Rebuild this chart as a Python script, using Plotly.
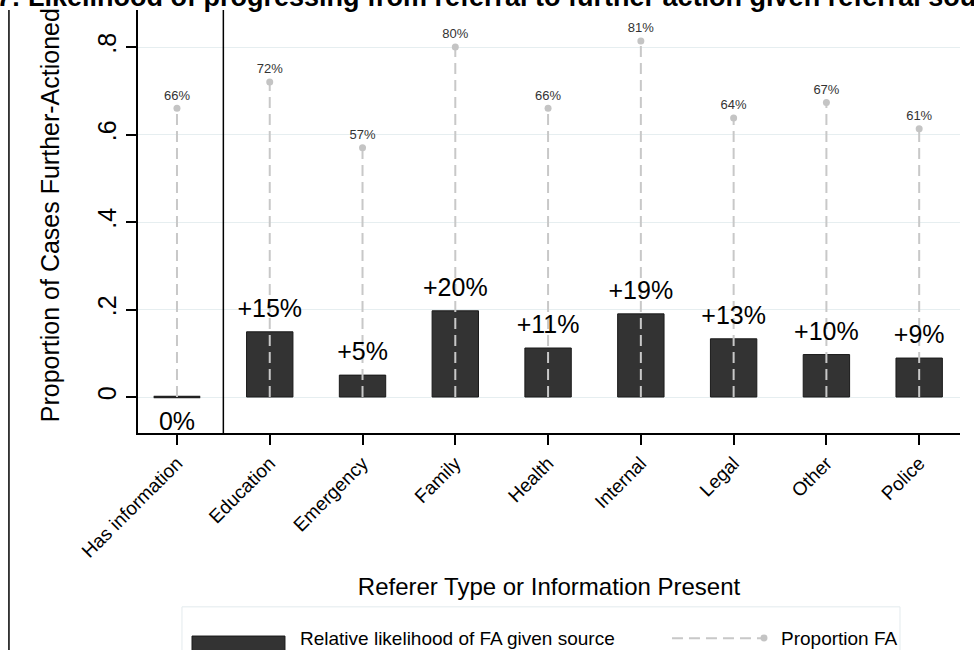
import plotly.graph_objects as go

# ---- data ----
categories = ["Has information", "Education", "Emergency", "Family", "Health",
              "Internal", "Legal", "Other", "Police"]
relative_likelihood = [0.0, 0.149, 0.050, 0.197, 0.112, 0.190, 0.133, 0.097, 0.089]
relative_labels = ["0%", "+15%", "+5%", "+20%", "+11%", "+19%", "+13%", "+10%", "+9%"]
proportion_fa = [0.66, 0.72, 0.57, 0.80, 0.66, 0.814, 0.638, 0.673, 0.613]
proportion_labels = ["66%", "72%", "57%", "80%", "66%", "81%", "64%", "67%", "61%"]
y_tick_vals = [0, 0.2, 0.4, 0.6, 0.8]
y_tick_text = ["0", ".2", ".4", ".6", ".8"]

FONT = "Arial, Liberation Sans, sans-serif"
BAR_W = 0.5
xs = list(range(len(categories)))

fig = go.Figure()

# bars
fig.add_trace(go.Bar(
    x=xs, y=relative_likelihood, width=BAR_W,
    marker=dict(color="#333333", line=dict(color="#1a1a1a", width=1)),
    showlegend=False, hoverinfo="skip"))

# zero-height bars drawn as a flat line
zx, zy = [], []
for i, v in enumerate(relative_likelihood):
    if v == 0:
        zx += [i - BAR_W / 2, i + BAR_W / 2, None]
        zy += [v, v, None]
fig.add_trace(go.Scatter(x=zx, y=zy, mode="lines",
                         line=dict(color="#222222", width=2.5),
                         showlegend=False, hoverinfo="skip"))

# dashed stems for proportion FA
sx, sy = [], []
for i, v in enumerate(proportion_fa):
    sx += [i, i, None]
    sy += [0, v, None]
fig.add_trace(go.Scatter(x=sx, y=sy, mode="lines",
                         line=dict(color="#c8c8c8", width=2, dash="11px,6px"),
                         showlegend=False, hoverinfo="skip"))

# proportion dots + labels
fig.add_trace(go.Scatter(x=xs, y=proportion_fa, mode="markers+text",
                         marker=dict(color="#c4c4c4", size=7),
                         text=proportion_labels, textposition="top center",
                         textfont=dict(family=FONT, size=13, color="#333333"),
                         showlegend=False, hoverinfo="skip"))

# bar labels (transparent markers only to offset the text)
pos_x = [i for i, v in enumerate(relative_likelihood) if v > 0]
fig.add_trace(go.Scatter(x=pos_x, y=[relative_likelihood[i] for i in pos_x],
                         mode="markers+text", text=[relative_labels[i] for i in pos_x],
                         marker=dict(size=12, opacity=0),
                         textposition="top center",
                         textfont=dict(family=FONT, size=25, color="black"),
                         showlegend=False, hoverinfo="skip"))
zero_x = [i for i, v in enumerate(relative_likelihood) if v == 0]
fig.add_trace(go.Scatter(x=zero_x, y=[relative_likelihood[i] for i in zero_x],
                         mode="markers+text", text=[relative_labels[i] for i in zero_x],
                         marker=dict(size=21, opacity=0),
                         textposition="bottom center",
                         textfont=dict(family=FONT, size=25, color="black"),
                         showlegend=False, hoverinfo="skip"))

# separator between "Has information" and referer types
sep_x = 0.5
shapes = [
    dict(type="line", xref="x", yref="paper", x0=sep_x, x1=sep_x, y0=0, y1=1,
         line=dict(color="black", width=1.5)),
    # outer border line at left
    dict(type="line", xref="paper", yref="paper", x0=-0.157, x1=-0.157, y0=-0.6, y1=1.0,
         line=dict(color="black", width=1.5)),
    # legend box
    dict(type="rect", xref="paper", yref="paper", x0=0.0535, x1=0.927, y0=-0.56, y1=-0.411,
         line=dict(color="#e3eaed", width=1), fillcolor="white"),
    # legend key: bar
    dict(type="rect", xref="paper", yref="paper", x0=0.0657, x1=0.1788, y0=-0.56, y1=-0.480,
         line=dict(color="#1a1a1a", width=1), fillcolor="#333333"),
    # legend key: dashed line
    dict(type="line", xref="paper", yref="paper", x0=0.6496, x1=0.7616, y0=-0.485, y1=-0.485,
         line=dict(color="#c8c8c8", width=2, dash="11px,6px")),
    dict(type="circle", xref="paper", yref="paper", x0=0.7573, x1=0.7658, y0=-0.4929, y1=-0.4764,
         line=dict(color="#c4c4c4", width=0), fillcolor="#c4c4c4"),
]

annotations = [
    dict(text="<b>Figure 4.7: Likelihood of progressing from referral to further action given referral source</b>",
         xref="paper", yref="paper", x=-0.312, y=0.99, xanchor="left", yanchor="bottom",
         showarrow=False, font=dict(family=FONT, size=27, color="black")),
    dict(text="Proportion of Cases Further-Actioned", xref="paper", yref="paper",
         x=-0.107, y=0.515, xanchor="center", yanchor="middle", textangle=-90,
         showarrow=False, font=dict(family=FONT, size=25, color="black")),
    dict(text="Relative likelihood of FA given source", xref="paper", yref="paper",
         x=0.1946, y=-0.485, xanchor="left", yanchor="middle", showarrow=False,
         font=dict(family=FONT, size=19, color="black")),
    dict(text="Proportion FA", xref="paper", yref="paper",
         x=0.7798, y=-0.485, xanchor="left", yanchor="middle", showarrow=False,
         font=dict(family=FONT, size=19, color="black")),
]

fig.update_layout(
    width=974, height=650,
    margin=dict(l=138, r=14, t=10, b=217, autoexpand=False),
    plot_bgcolor="white", paper_bgcolor="white",
    font=dict(family=FONT, color="black"),
    shapes=shapes, annotations=annotations,
    showlegend=False,
    xaxis=dict(
        range=[-0.42, 8.44], tickmode="array", tickvals=xs, ticktext=categories,
        tickangle=-45, tickfont=dict(size=19, color="black"),
        ticks="outside", ticklen=10, tickwidth=1.5, tickcolor="black",
        showline=True, linecolor="black", linewidth=1.5,
        showgrid=False, zeroline=False,
        title=dict(text="Referer Type or Information Present",
                   font=dict(size=24, color="black"), standoff=18),
    ),
    yaxis=dict(
        range=[-0.0823, 0.8846], tickmode="array", tickvals=y_tick_vals, ticktext=y_tick_text,
        tickangle=-90, tickfont=dict(size=25, color="black"),
        ticks="outside", ticklen=10, tickwidth=1.5, tickcolor="black",
        showline=True, linecolor="black", linewidth=1.5,
        showgrid=True, gridcolor="#e6eef0", gridwidth=1, zeroline=False,
    ),
)

fig.write_html("out.html", config={"displayModeBar": False},
               post_script="document.body.style.margin='0px';document.body.style.overflow='hidden';")
